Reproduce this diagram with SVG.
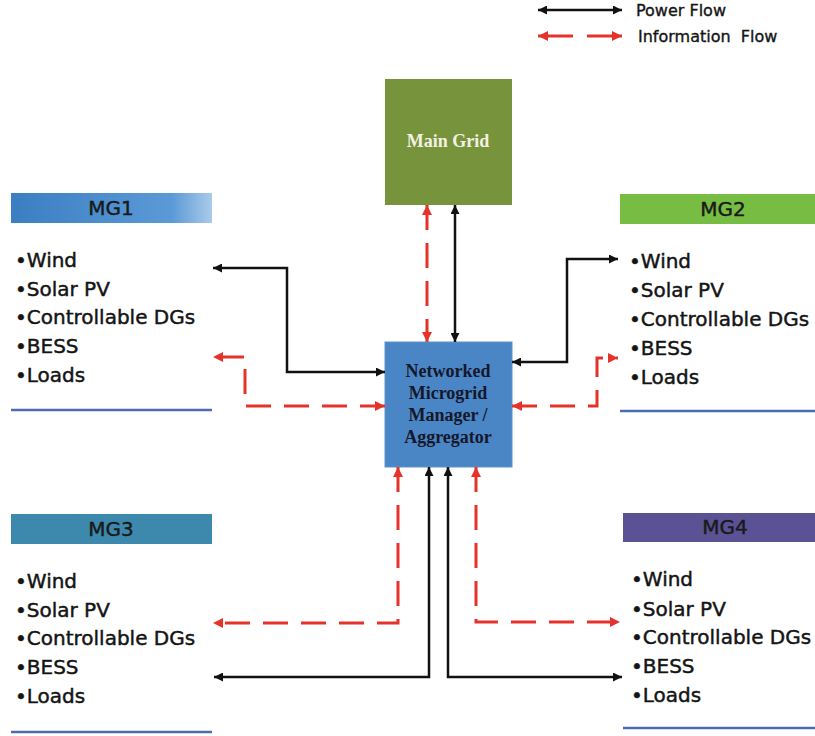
<svg xmlns="http://www.w3.org/2000/svg" width="815" height="736" viewBox="0 0 815 736">
<defs>
<style>
.body{font-family:"DejaVu Sans","Liberation Sans",sans-serif;font-size:20px;fill:#141414;stroke:#141414;stroke-width:0.45}
.hdr{font-family:"DejaVu Sans","Liberation Sans",sans-serif;font-size:20px;fill:#1a1a1a;stroke:#1a1a1a;stroke-width:0.45;text-anchor:middle}
.leg{font-family:"DejaVu Sans","Liberation Sans",sans-serif;font-size:16px;fill:#141414;stroke:#141414;stroke-width:0.35}
.box{font-family:"Liberation Serif","DejaVu Serif",serif;font-weight:bold;font-size:18px;text-anchor:middle}
.pw{fill:none;stroke:#111;stroke-width:2.5;marker-start:url(#ab);marker-end:url(#ab)}
.inf{fill:none;stroke:#e5332a;stroke-width:3;stroke-dasharray:25 13;marker-start:url(#ar);marker-end:url(#ar)}
.sep{stroke:#4d6bb0;stroke-width:2.5}
</style>
<marker id="ab" viewBox="0 0 10 10" refX="10" refY="5" markerWidth="10" markerHeight="9" markerUnits="userSpaceOnUse" orient="auto-start-reverse">
<path d="M0,0 L10,5 L0,10 z" fill="#111"/>
</marker>
<marker id="ar" viewBox="0 0 10 10" refX="10" refY="5" markerWidth="11" markerHeight="10" markerUnits="userSpaceOnUse" orient="auto-start-reverse">
<path d="M0,0 L10,5 L0,10 z" fill="#e5332a"/>
</marker>
<linearGradient id="g1" x1="0" y1="0" x2="1" y2="0">
<stop offset="0" stop-color="#3a7ec3"/>
<stop offset="0.8" stop-color="#5b9ad6"/>
<stop offset="1" stop-color="#a9cbeb"/>
</linearGradient>
</defs>
<rect width="815" height="736" fill="#ffffff"/>

<g id="legend">
<line x1="538" y1="10" x2="622" y2="10" class="pw"/>
<line x1="538" y1="36" x2="622" y2="36" class="inf" style="stroke-dasharray:35 14"/>
<text class="leg" x="636" y="16">Power Flow</text>
<text class="leg" x="638" y="42" xml:space="preserve">Information  Flow</text>
</g>

<g id="main-grid">
<rect x="385" y="79" width="127" height="126" fill="#77933c"/>
<text class="box" x="448" y="147" fill="#f3f1e2">Main Grid</text>
</g>

<g id="manager">
<rect x="385" y="342" width="127" height="125" fill="#4a86c6" stroke="#5b93cc" stroke-width="1"/>
<text class="box" fill="#15182a"><tspan x="448" y="377">Networked</tspan><tspan x="448" y="399">Microgrid</tspan><tspan x="448" y="421">Manager /</tspan><tspan x="448" y="443">Aggregator</tspan></text>
</g>

<g id="mg1">
<rect x="11" y="193" width="201" height="30" fill="url(#g1)"/>
<text class="hdr" x="111" y="215">MG1</text>
<text class="body"><tspan x="15" y="267">•Wind</tspan><tspan x="15" y="296">•Solar PV</tspan><tspan x="15" y="324">•Controllable DGs</tspan><tspan x="15" y="353">•BESS</tspan><tspan x="15" y="382">•Loads</tspan></text>
<line class="sep" x1="11" y1="410" x2="212" y2="410"/>
</g>

<g id="mg2">
<rect x="620" y="194" width="195" height="30" fill="#78bd43"/>
<text class="hdr" x="723" y="216">MG2</text>
<text class="body"><tspan x="629" y="268">•Wind</tspan><tspan x="629" y="297">•Solar PV</tspan><tspan x="629" y="326">•Controllable DGs</tspan><tspan x="629" y="355">•BESS</tspan><tspan x="629" y="384">•Loads</tspan></text>
<line class="sep" x1="620" y1="411" x2="815" y2="411"/>
</g>

<g id="mg3">
<rect x="11" y="514" width="201" height="30" fill="#3d89ae"/>
<text class="hdr" x="111" y="536">MG3</text>
<text class="body"><tspan x="15" y="588">•Wind</tspan><tspan x="15" y="617">•Solar PV</tspan><tspan x="15" y="645">•Controllable DGs</tspan><tspan x="15" y="674">•BESS</tspan><tspan x="15" y="703">•Loads</tspan></text>
<line class="sep" x1="11" y1="732" x2="212" y2="732"/>
</g>

<g id="mg4">
<rect x="623" y="513" width="192" height="29" fill="#5a5294"/>
<text class="hdr" x="725" y="534">MG4</text>
<text class="body"><tspan x="631" y="586">•Wind</tspan><tspan x="631" y="616">•Solar PV</tspan><tspan x="631" y="644">•Controllable DGs</tspan><tspan x="631" y="673">•BESS</tspan><tspan x="631" y="702">•Loads</tspan></text>
<line class="sep" x1="623" y1="728" x2="815" y2="728"/>
</g>

<g id="connectors">
<path class="pw" d="M455,205 V342"/>
<path class="inf" d="M427,205 V342"/>
<path class="pw" d="M385,372 H287 V268 H213"/>
<path class="inf" d="M385,406 H245 V357 H213"/>
<path class="pw" d="M512,362 H567 V259 H618"/>
<path class="inf" d="M512,406 H597 V358 H618"/>
<path class="inf" d="M398,467 V623 H213"/>
<path class="pw" d="M429,467 V677 H214"/>
<path class="pw" d="M448,467 V677 H622"/>
<path class="inf" d="M476,467 V622 H620"/>
</g>
</svg>
